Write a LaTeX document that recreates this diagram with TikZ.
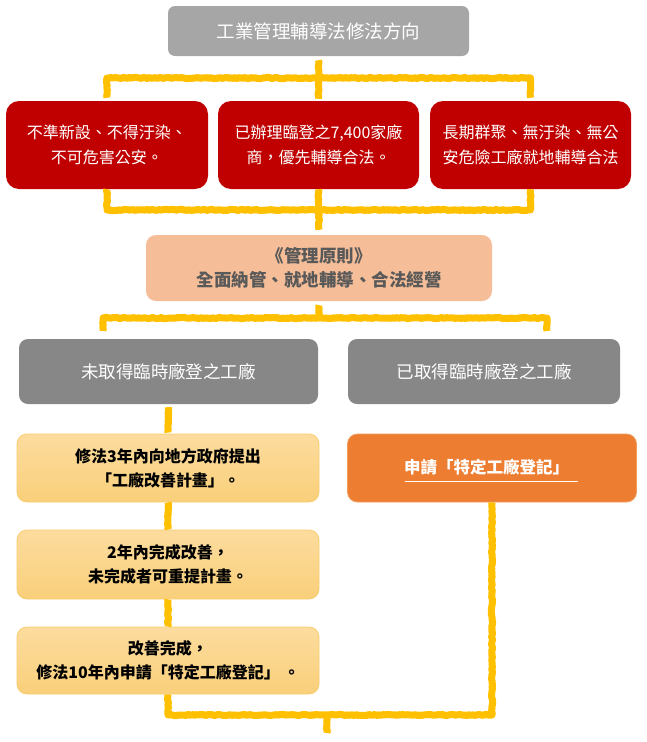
\documentclass[tikz,border=0pt]{standalone}
\usepackage{fontspec}
\setmainfont{Noto Sans CJK TC}
\usetikzlibrary{decorations.pathmorphing,calc}
\definecolor{titlegray}{HTML}{A6A6A6}
\definecolor{boxred}{HTML}{C00000}
\definecolor{palebox}{HTML}{F5BE98}
\definecolor{paletext}{HTML}{595959}
\definecolor{darkgray}{HTML}{878787}
\definecolor{yeltop}{HTML}{FCDC9E}
\definecolor{yelbot}{HTML}{F9CF7A}
\definecolor{yelborder}{HTML}{F9CD6E}
\definecolor{orangebox}{HTML}{ED7D31}
\definecolor{orangeborder}{HTML}{F29B5A}
\definecolor{connyellow}{HTML}{FFC000}
\tikzset{
  basebox/.style={inner sep=0pt, align=center, rounded corners=10pt},
  titlebox/.style={basebox, fill=titlegray, rounded corners=7pt, text=white,
    font=\fontsize{18.5}{22}\selectfont},
  redbox/.style={basebox, fill=boxred, rounded corners=13pt, text=white,
    minimum height=88pt, font=\fontsize{16}{25}\selectfont},
  palebox/.style={basebox, fill=palebox, text=paletext,
    font=\bfseries\fontsize{17.5}{24}\selectfont},
  graybox/.style={basebox, fill=darkgray, rounded corners=9pt, text=white,
    minimum height=65pt, font=\fontsize{17.5}{22}\selectfont},
  yelbox/.style={basebox, top color=yeltop, bottom color=yelbot, draw=yelborder,
    line width=0.8pt, minimum width=302pt, text=black,
    font=\bfseries\fontsize{16}{24}\selectfont},
  orbox/.style={basebox, fill=orangebox, draw=orangeborder, line width=0.8pt},
  ortext/.style={inner sep=0pt, text=white, font=\bfseries\fontsize{16.5}{20}\selectfont},
  conn/.style={draw=connyellow, line width=7pt, line join=round,
    decorate, decoration={random steps, segment length=2pt, amplitude=0.6pt}},
}
\begin{document}
\begin{tikzpicture}[x=1pt,y=-1pt]
\useasboundingbox (0,0) rectangle (647,742);

% boxes
\node[titlebox, minimum width=301pt, minimum height=50pt] (top) at (318.5,31) {工業管理輔導法修法方向};

\node[redbox, minimum width=202pt] (r1) at (107,145) {不準新設、不得汙染、\\不可危害公安。};
\node[redbox, minimum width=201pt] (r2) at (318.5,145) {已辦理臨登之7,400家廠\\商，優先輔導合法。};
\node[redbox, minimum width=201pt] (r3) at (530.5,145) {長期群聚、無汙染、無公\\安危險工廠就地輔導合法};

\node[palebox, minimum width=346pt, minimum height=66pt] (mid) at (319,268) {《管理原則》\\全面納管、就地輔導、合法經營};

\node[graybox, minimum width=299pt] (g1) at (168.5,371.5) {未取得臨時廠登之工廠};
\node[graybox, minimum width=272pt] (g2) at (484,371.5) {已取得臨時廠登之工廠};

\node[yelbox, minimum height=68pt] (y1) at (168,468) {修法3年內向地方政府提出\\「工廠改善計畫」。};
\node[yelbox, minimum height=69pt] (y2) at (168,564.5) {2年內完成改善，\\未完成者可重提計畫。};
\node[yelbox, minimum height=67pt] (y3) at (168,660.5) {改善完成，\\修法10年內申請「特定工廠登記」 。};

\node[orbox, minimum width=289pt, minimum height=68pt] (o1) at (492,468) {};
\node[ortext] (o1t) at ([xshift=-5.5pt,yshift=1pt]o1.center) {申請「特定工廠登記」};
\coordinate (ulA) at ([xshift=-87pt,yshift=-13pt]o1.center);
\coordinate (ulB) at ([xshift=86pt,yshift=-13pt]o1.center);
\draw[white, line width=1pt] (ulA) -- (ulB);

% rails
\coordinate (rail1) at (318.5,78);
\coordinate (rail2) at (318.5,210);
\coordinate (rail3) at (319,318);
\coordinate (d1) at (103,331);
\coordinate (d2) at (547,331);
\coordinate (rail4) at (327,715);
\coordinate (endstub) at (327,733);

% connectors
\draw[conn] ([yshift=-4pt]top.south) -- ([yshift=2pt]r2.north);
\draw[conn] ([yshift=3pt]r1.north) |- (rail1) -| ([yshift=3pt]r3.north);
\draw[conn] (r1.south) |- (rail2) -| (r3.south);
\draw[conn] (r2.south) -- ([yshift=5pt]mid.north);
\draw[conn] ([yshift=-4pt]mid.south) -- (rail3);
\draw[conn] (d1) |- (rail3) -| (d2);
\draw[conn] ([yshift=-3pt]g1.south) -- ([yshift=1pt]y1.north);
\draw[conn] (y1.south) -- (y2.north);
\draw[conn] (y2.south) -- (y3.north);
\draw[conn] (y3.south) |- (rail4) -| (o1.south);
\draw[conn] (rail4) -- (endstub);
\end{tikzpicture}
\end{document}
